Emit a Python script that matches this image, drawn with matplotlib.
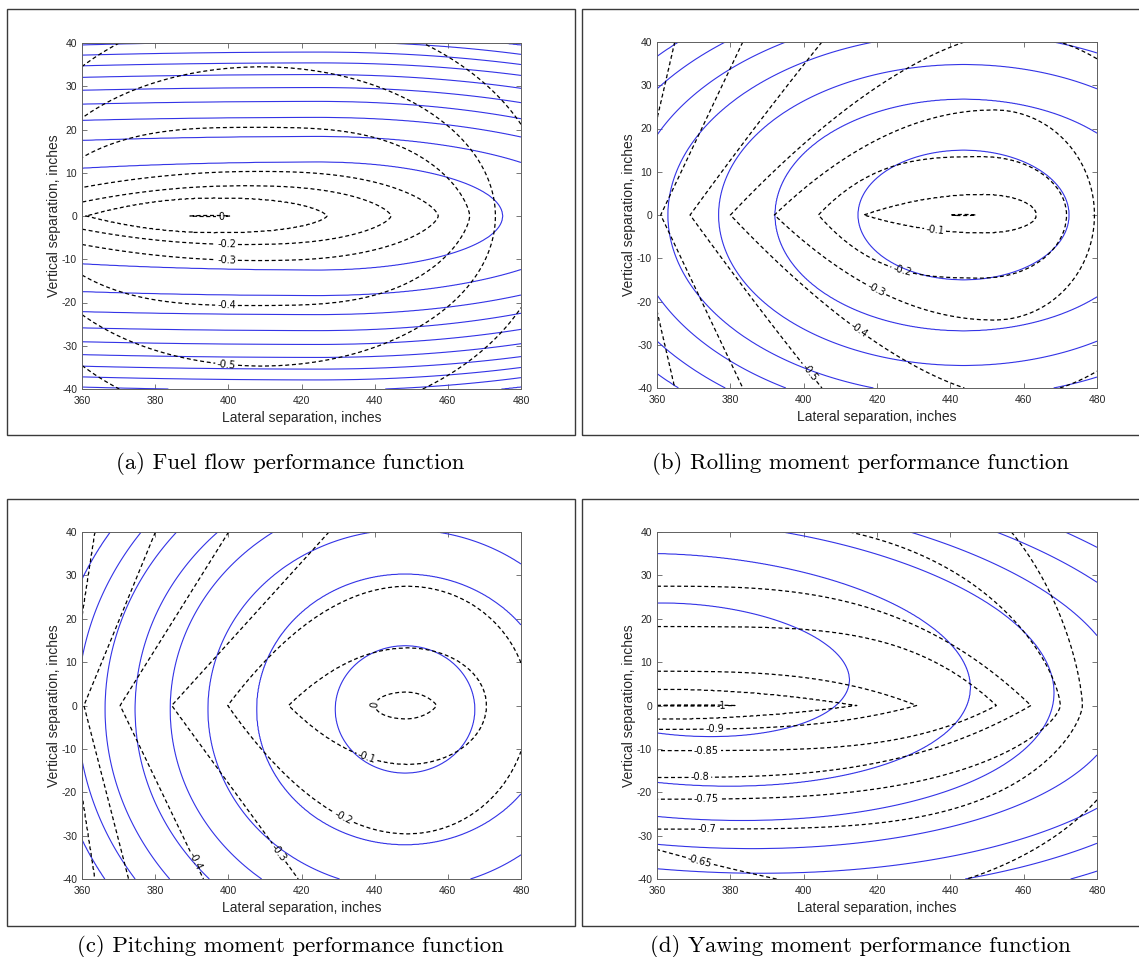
import numpy as np
import matplotlib
matplotlib.use("Agg")
import matplotlib.pyplot as plt
from matplotlib.patches import Rectangle

plt.rcParams['axes.unicode_minus'] = False

# ---------------- axes / text data ----------------
x_ticks = [360, 380, 400, 420, 440, 460, 480]
y_ticks = [-40, -30, -20, -10, 0, 10, 20, 30, 40]
x_label = "Lateral separation, inches"
y_label = "Vertical separation, inches"
captions = ["(a) Fuel flow performance function",
            "(b) Rolling moment performance function",
            "(c) Pitching moment performance function",
            "(d) Yawing moment performance function"]

# ---------------- panel (a) fuel flow ----------------
a_lv = [0, -0.1, -0.2, -0.3, -0.4, -0.5, -0.6]
a_xc = [395, 396, 404, 408, 408, 409, 410]
a_al = [5.5, 35, 60, 80, 62, 65, 72]
a_ar = [5.5, 31, 40.5, 49.4, 58, 64, 78]
a_bu = [0.12, 4.2, 7.0, 10.3, 20.5, 34.5, 48]
a_bd = [0.12, 3.9, 6.6, 10.3, 20.7, 34.7, 48]
a_pl = [2, 2, 2, 2, 3, 2, 2]
a_pr = [2, 2.5, 2.5, 2.5, 3, 2, 2]
a_ql = [2, 1, 1, 1, 1.5, 2, 2]
a_qr = [2, 1.5, 1.5, 1.5, 1.5, 2, 2]
a_lab_xy = [(398, 0), (399.5, -6.7), (399.5, -10.3), (399.5, -20.7), (399.5, -34.7)]
# blue constraint curves (a)
a_blue_xc = 425
a_blue_al = [140, 210, 270, 300, 320, 330, 335, 340, 340, 345]
a_blue_ar = [50, 74.4, 92, 104, 117, 128, 139, 144, 147, 159]
a_blue_b = [12.5, 18.4, 22.8, 26.5, 29.7, 32.7, 35.4, 37.9, 40.3, 42.1]

# ---------------- panel (b) rolling moment ----------------
b_lv = [0, -0.1, -0.2, -0.3, -0.4, -0.5, -0.6, -0.7]
b_xc = [443.5, 449, 449, 452, 455, 455, 455, 455]
b_al = [3.5, 32.7, 45, 60, 75, 86, 94, 101]
b_ar = [3.5, 14.5, 22.7, 27.3, 49, 90, 110, 130]
b_bu = [0.12, 4.8, 13.5, 24.3, 42, 83.7, 168, 371]
b_bd = [0.12, 4.2, 14.6, 24.3, 42, 83.7, 168, 371]
b_pl = [2, 2, 3, 2, 1.6, 1.2, 1.0, 1.0]
b_pr = [2, 2, 2, 2, 2, 2, 2, 2]
b_ql = [2, 1, 1, 1, 1, 1, 1, 1]
b_qr = [2, 2, 2, 2, 2, 2, 2, 2]
b_lab_xy = [(435.8, -3.5), (427.6, -11.0), (419.9, -17), (415.8, -25.8), (402.6, -35.8)]
b_blue_xc = 443.6
b_blue_yc = 0.0
b_blue_b = [15, 26.8, 34.8, 42, 47.3, 52.4, 56.9]
b_blue_aspect = 1.92

# ---------------- panel (c) pitching moment ----------------
c_lv = [0, -0.1, -0.2, -0.3, -0.4, -0.5, -0.6]
c_xc = [448.5, 449, 449, 449, 449, 449, 449]
c_al = [8.4, 32.6, 49.2, 64.5, 78.6, 88.5, 92.7]
c_ar = [8.4, 21.6, 33.2, 50, 60, 70, 80]
c_bu = [3.1, 13.3, 27.5, 60, 106, 181, 510]
c_bd = [3.1, 13.6, 29.6, 74.6, 138, 290, 510]
c_pl = [2, 2, 2, 1, 1, 1, 1]
c_pr = [2, 2, 2, 2, 2, 2, 2]
c_ql = [2, 1, 1, 1, 1, 1, 1]
c_qr = [1.3, 2, 2, 2, 2, 2, 2]
c_lab_xy = [(440.1, 0.2), (437.8, -12.1), (431.4, -26), (413.7, -34), (391.8, -35.6)]
c_blue_xc = 448.3
c_blue_yc = -0.9
c_blue_a = [19.1, 40.6, 53.9, 64.2, 73.8, 82.0, 89.6, 96.5]
c_blue_aspect = 1.3

# ---------------- panel (d) yawing moment ----------------
d_lv = [-1, -0.95, -0.9, -0.85, -0.8, -0.75, -0.7, -0.65]
d_xc = [370, 360, 360, 360, 360, 360, 360, 418]
d_al = [12, 10, 10, 10, 10, 10, 10, 124.6]
d_ar = [11.3, 54.5, 70.8, 92.6, 102, 110, 116, 72.9]
d_bu = [0.12, 3.8, 7.9, 18.2, 27.5, 43.2, 62, 120]
d_bd = [0.12, 3.2, 5.5, 10.4, 16.6, 21.6, 28.5, 44]
d_pl = [2, 2, 2, 2, 2, 2, 2, 1.1]
d_pr = [2, 2, 3, 4, 3, 3, 4, 1.73]
d_ql = [2, 2, 2, 2, 2, 2, 2, 2]
d_qr = [2, 1, 1, 1, 1, 1.5, 1.5, 2]
d_lab_xy = [(377.6, 0), (375.8, -5.0), (373.5, -10.6), (371.7, -17.1),
            (373.5, -22.7), (373.5, -28.9), (371.7, -35.8)]
d_blue_xc = 368
d_blue_yc = 8.23
d_blue_tilt = -0.0525
d_blue_a = [44.5, 77.5, 100.3, 119.0, 135.4, 149.9, 162.9]
d_blue_aspect = 2.92


# ---------------- helpers ----------------
def nested_field(X, Y, lv, xc, yc, al, ar, bd, bu, pl, pr, ql, qr, tilt=0.0):
    lv = np.asarray(lv, float)
    n = len(lv)
    rho = []
    for k in range(n):
        dx = X - xc[k]
        dy = Y - yc[k] - tilt * dx
        left = dx < 0
        A = np.where(left, al[k], ar[k])
        P = np.where(left, pl[k], pr[k])
        Q = np.where(left, ql[k], qr[k])
        B = np.where(dy < 0, bd[k], bu[k])
        rho.append((np.abs(dx) / A) ** P + (np.abs(dy) / B) ** Q)
    with np.errstate(all='ignore'):
        F = lv[-1] + (lv[-1] - lv[-2]) * np.minimum(rho[-1] - 1, 1)
        for k in range(n - 1, 0, -1):
            m = (rho[k] <= 1) & (rho[k - 1] > 1)
            t = (rho[k - 1] - 1) / (rho[k - 1] - rho[k])
            F = np.where(m, lv[k - 1] + (lv[k] - lv[k - 1]) * t, F)
        m = rho[0] <= 1
        F = np.where(m, lv[0] - 0.5 * (lv[1] - lv[0]) * (1 - rho[0]), F)
    return F


def fmt(v):
    return '%g' % v


xg = np.linspace(360, 480, 721)
yg = np.linspace(-40, 40, 801)
X, Y = np.meshgrid(xg, yg)

W, H = 1139, 957
fig = plt.figure(figsize=(W / 100, H / 100), dpi=100)

axes_px = [(82, 43, 521, 389), (657, 42, 1097, 388),
           (82, 532, 521, 879), (657, 532, 1097, 879)]
frames_px = [(7, 9, 575, 435), (582, 9, 1142, 435),
             (7, 499, 575, 926), (582, 499, 1142, 926)]
caption_px = [(290, 463), (860, 463), (290, 946), (860, 946)]

BLUE = '#3333e6'
DASH = [(0, (3.2, 2.2))]
SPINE = '#606060'
TXT = '#262626'

for (x0, y0, x1, y1) in frames_px:
    fig.add_artist(Rectangle((x0 / W, 1 - y1 / H), (x1 - x0) / W, (y1 - y0) / H,
                             transform=fig.transFigure, fill=False,
                             ec='#3a3a3a', lw=1.0))

for (cx, cy), cap in zip(caption_px, captions):
    fig.text(cx / W, 1 - cy / H, cap, ha='center', va='center',
             family='cmr10', fontsize=16.4, color='black')

axs = []
for (x0, y0, x1, y1) in axes_px:
    ax = fig.add_axes([x0 / W, 1 - y1 / H, (x1 - x0) / W, (y1 - y0) / H])
    ax.set_xlim(360, 480)
    ax.set_ylim(-40, 40)
    ax.set_xticks(x_ticks)
    ax.set_yticks(y_ticks)
    ax.tick_params(direction='in', top=True, right=True, length=3.5,
                   width=0.6, color=SPINE, labelsize=7.5, labelcolor=TXT)
    ax.tick_params(axis='x', pad=5)
    ax.tick_params(axis='y', pad=3.5)
    for lab in ax.get_xticklabels() + ax.get_yticklabels():
        lab.set_family('Liberation Sans')
    for s in ax.spines.values():
        s.set_color(SPINE)
        s.set_linewidth(0.7)
    ax.set_xlabel(x_label, fontsize=10, family='Liberation Sans', color=TXT, labelpad=3.5)
    ax.set_ylabel(y_label, fontsize=10, family='Liberation Sans', color=TXT, labelpad=0.5)
    axs.append(ax)

# ---- blue fields ----
nA = len(a_blue_b)
Fa_b = nested_field(X, Y, np.arange(1, nA + 1), [a_blue_xc] * nA, [0] * nA,
                    a_blue_al, a_blue_ar, a_blue_b, a_blue_b,
                    [2] * nA, [2] * nA, [2] * nA, [2] * nA)
nB = len(b_blue_b)
b_blue_a = [b_blue_aspect * v for v in b_blue_b]
Fb_b = nested_field(X, Y, np.arange(1, nB + 1), [b_blue_xc] * nB, [b_blue_yc] * nB,
                    b_blue_a, b_blue_a, b_blue_b, b_blue_b,
                    [2] * nB, [2] * nB, [2] * nB, [2] * nB)
nC = len(c_blue_a)
c_blue_b = [v / c_blue_aspect for v in c_blue_a]
Fc_b = nested_field(X, Y, np.arange(1, nC + 1), [c_blue_xc] * nC, [c_blue_yc] * nC,
                    c_blue_a, c_blue_a, c_blue_b, c_blue_b,
                    [2] * nC, [2] * nC, [2] * nC, [2] * nC)
nD = len(d_blue_a)
d_blue_b = [v / d_blue_aspect for v in d_blue_a]
Fd_b = nested_field(X, Y, np.arange(1, nD + 1), [d_blue_xc] * nD, [d_blue_yc] * nD,
                    d_blue_a, d_blue_a, d_blue_b, d_blue_b,
                    [2] * nD, [2] * nD, [2] * nD, [2] * nD, tilt=d_blue_tilt)
blue_fields = [(Fa_b, nA), (Fb_b, nB), (Fc_b, nC), (Fd_b, nD)]

# ---- black fields ----
Fa = nested_field(X, Y, a_lv, a_xc, [0] * len(a_lv), a_al, a_ar, a_bd, a_bu,
                  a_pl, a_pr, a_ql, a_qr)
Fb = nested_field(X, Y, b_lv, b_xc, [0] * len(b_lv), b_al, b_ar, b_bd, b_bu,
                  b_pl, b_pr, b_ql, b_qr)
Fc = nested_field(X, Y, c_lv, c_xc, [0] * len(c_lv), c_al, c_ar, c_bd, c_bu,
                  c_pl, c_pr, c_ql, c_qr)
Fd = nested_field(X, Y, d_lv, d_xc, [0] * len(d_lv), d_al, d_ar, d_bd, d_bu,
                  d_pl, d_pr, d_ql, d_qr)
black = [(Fa, a_lv, a_lab_xy), (Fb, b_lv, b_lab_xy),
         (Fc, c_lv, c_lab_xy), (Fd, d_lv, d_lab_xy)]

for ax, (Fbl, nb), (Fk, lv, lab_xy) in zip(axs, blue_fields, black):
    ax.contour(X, Y, Fbl, levels=np.arange(1, nb + 1), colors=BLUE, linewidths=0.8)
    cs = ax.contour(X, Y, Fk, levels=sorted(lv), colors='k', linewidths=0.9,
                    linestyles=DASH)
    ax.clabel(cs, manual=lab_xy, inline=True, inline_spacing=2,
              fmt=fmt, fontsize=7)

fig.savefig('out.png', dpi=100)
